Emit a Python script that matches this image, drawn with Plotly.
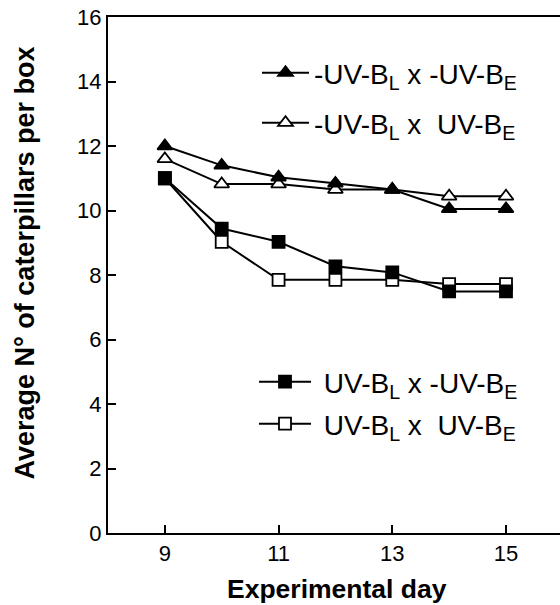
import plotly.graph_objects as go

days = [9, 10, 11, 12, 13, 14, 15]
noL_noE = [12.0, 11.4, 11.03, 10.84, 10.65, 10.05, 10.05]
noL_E = [11.6, 10.82, 10.82, 10.65, 10.65, 10.44, 10.44]
L_noE = [11.0, 9.44, 9.03, 8.27, 8.08, 7.49, 7.49]
L_E = [11.0, 9.03, 7.85, 7.85, 7.85, 7.72, 7.72]

names = [
    "-UV-B<sub>L</sub> x -UV-B<sub>E</sub>",
    "-UV-B<sub>L</sub> x \u00a0UV-B<sub>E</sub>",
    "\u00a0UV-B<sub>L</sub> x -UV-B<sub>E</sub>",
    "\u00a0UV-B<sub>L</sub> x \u00a0UV-B<sub>E</sub>",
]
x_ticks = [9, 11, 13, 15]
y_ticks = [0, 2, 4, 6, 8, 10, 12, 14, 16]

FONT = "Liberation Sans, Arial, sans-serif"

series = [
    (L_E, "square", "white", names[3], "legend4"),
    (L_noE, "square", "black", names[2], "legend3"),
    (noL_E, "triangle-up", "white", names[1], "legend2"),
    (noL_noE, "triangle-up", "black", names[0], "legend"),
]

fig = go.Figure()
for ys, sym, fill, name, lg in series:
    fig.add_trace(go.Scatter(
        x=days, y=ys, mode="lines+markers", name=name, legend=lg,
        line=dict(color="black", width=2),
        marker=dict(symbol=sym, size=13 if "tri" in sym else 12, color=fill,
                    line=dict(color="black", width=1.8)),
    ))

# body margin is removed below, so figure pixels == screenshot pixels
L, R, T, B = 108, 0, 17, 72
pw, ph = 560 - L - R, 605 - T - B
px_to_x = lambda px: (px - L) / pw
px_to_y = lambda py: (605 - B - py) / ph

def leg(px, py, iw):
    return dict(x=px_to_x(px), y=px_to_y(py), xanchor="left", yanchor="middle",
                bgcolor="rgba(0,0,0,0)", borderwidth=0, itemwidth=iw,
                font=dict(family=FONT, size=28, color="black"))

fig.update_layout(
    width=560, height=605, showlegend=True,
    margin=dict(l=L, r=R, t=T, b=B),
    plot_bgcolor="white", paper_bgcolor="white",
    font=dict(family=FONT, color="black"),
    legend=leg(257, 73, 47),
    legend2=leg(257, 123, 47),
    legend3=leg(254, 382, 52),
    legend4=leg(254, 424, 52),
    annotations=[
        dict(
            text="<b>Average N° of caterpillars per box</b>", textangle=-90,
            xref="paper", yref="paper", x=px_to_x(24), y=px_to_y(263.5),
            xanchor="center", yanchor="middle", showarrow=False,
            font=dict(size=27, family=FONT, color="black"),
        ),
        dict(
            text="<b>Experimental day</b>",
            xref="paper", yref="paper", x=px_to_x(337), y=px_to_y(589),
            xanchor="center", yanchor="middle", showarrow=False,
            font=dict(size=26.5, family=FONT, color="black"),
        ),
    ],
)
fig.update_xaxes(
    range=[8, 15.95], tickvals=x_ticks, ticks="inside", ticklen=8, tickwidth=1.5,
    tickcolor="black", showline=True, linecolor="black", linewidth=2, mirror=True,
    showgrid=False, zeroline=False, tickfont=dict(size=22, family=FONT), automargin=False,
)
fig.update_yaxes(
    range=[0, 16], tickvals=y_ticks, ticks="inside", ticklen=8, tickwidth=1.5,
    tickcolor="black", showline=True, linecolor="black", linewidth=2, mirror=False,
    showgrid=False, zeroline=False, tickfont=dict(size=22, family=FONT), automargin=False,
)
fig.write_html("out.html", config={"displayModeBar": False},
               post_script="document.body.style.margin='0';")
